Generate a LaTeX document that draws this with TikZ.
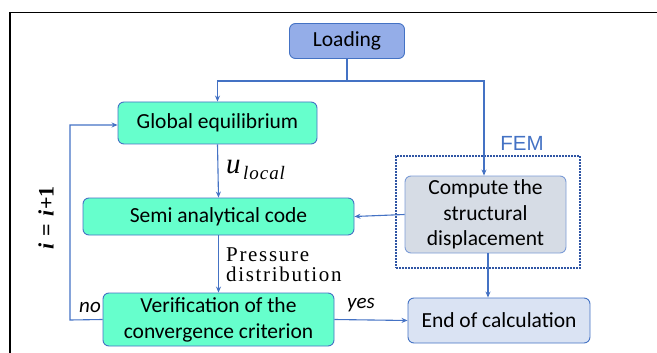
\documentclass[tikz,border=0pt]{standalone}
\usepackage{fontspec}
\setmainfont{Liberation Serif}
\setsansfont{Carlito}
\newfontfamily\arialfont{Liberation Sans}
\usetikzlibrary{arrows.meta,positioning}
\definecolor{lineblue}{HTML}{4472C4}
\definecolor{loadfill}{HTML}{94ADE8}
\definecolor{greenfill}{HTML}{66FFCC}
\definecolor{grayfill}{HTML}{D6DCE5}
\definecolor{endfill}{HTML}{DAE3F3}
\definecolor{fembord}{HTML}{2F55A4}
\tikzset{
  box/.style={draw=lineblue, line width=0.9pt, rounded corners=6pt, font=\sffamily\fontsize{21.5}{26}\selectfont, align=center, inner sep=0pt},
  arr/.style={draw=lineblue, line width=1.1pt, -{Stealth[length=6pt,width=5pt]}},
  ln/.style={draw=lineblue, line width=1.1pt},
  lab/.style={font=\sffamily\itshape\fontsize{21}{24}\selectfont},
}
\begin{document}
\begin{tikzpicture}[x=1pt,y=-1pt]
\useasboundingbox (0,0) rectangle (657,353);
\draw[black, line width=1.6pt] (10,353) -- (10,12.5) -- (657,12.5);

\node[box, fill=loadfill, minimum width=115pt, minimum height=35pt] (load) at (347,41) {Loading};
\node[box, fill=greenfill, minimum width=199pt, minimum height=42pt] (glob) at (217.5,123) {Global equilibrium};
\node[box, fill=greenfill, minimum width=271pt, minimum height=37pt] (semi) at (218.5,216.5) {Semi analytical code};
\node[box, fill=greenfill, minimum width=231pt, minimum height=53pt] (verif) at (218.5,319.5) {Verification of the\\convergence criterion};
\node[box, fill=grayfill, draw=lineblue!70, minimum width=161pt, minimum height=77pt, font=\sffamily\fontsize{21.5}{25.5}\selectfont] (comp) at (485.5,214.5) {Compute the\\structural\\displacement};
\node[box, fill=endfill, minimum width=182pt, minimum height=45pt] (end) at (499,320.5) {End of calculation};
\node[draw=fembord, densely dotted, line width=2pt, minimum width=184pt, minimum height=112pt, inner sep=0pt] (fem) at (488,212) {};
\node[font=\arialfont\fontsize{20.5}{24}\selectfont, text=lineblue] (femlab) at (522,143) {FEM};

\coordinate (split) at (load.south |- 0,81);
\coordinate (lft) at (glob.north |- 0,81);
\coordinate (rgt) at (484,81);
\draw[ln] (load.south) -- (split);
\draw[arr] (split) -- (lft) -- (glob.north);
\draw[arr] (split) -- (rgt) -- (rgt |- comp.north);

\draw[arr] (glob.south) -- (semi.north);
\node[anchor=base west, inner sep=0pt] (ul) at (226,173) {\fontsize{29}{30}\selectfont\itshape u\hspace{2.5pt}\raisebox{-6pt}{\addfontfeature{LetterSpace=5}\fontsize{19}{20}\selectfont local}};
\draw[arr] (semi.south) -- (verif.north);
\node[anchor=west, align=left, inner sep=0pt, font=\addfontfeature{LetterSpace=8}\fontsize{21}{19.5}\selectfont] (pd) at (226,264.5) {Pressure\\distribution};
\draw[arr] (comp.west) -- (semi.east);
\coordinate (dn) at (488,253);
\draw[arr] (dn) -- (dn |- end.north);

\coordinate (c1) at (70,320);
\coordinate (c2) at (70,125);
\draw[arr] (verif.west) -- (c1) -- (c2) -- (glob.west |- c2);
\node[lab] (no) at (90,307) {no};
\draw[arr] (verif.east) -- (end.west);
\node[lab] (yes) at (361,305) {yes};
\node[rotate=90, font=\bfseries\fontsize{22}{24}\selectfont] (iter) at (46,218) {\textit{i}\hspace{2pt} = \hspace{2pt}\textit{i}+1};
\end{tikzpicture}
\end{document}
